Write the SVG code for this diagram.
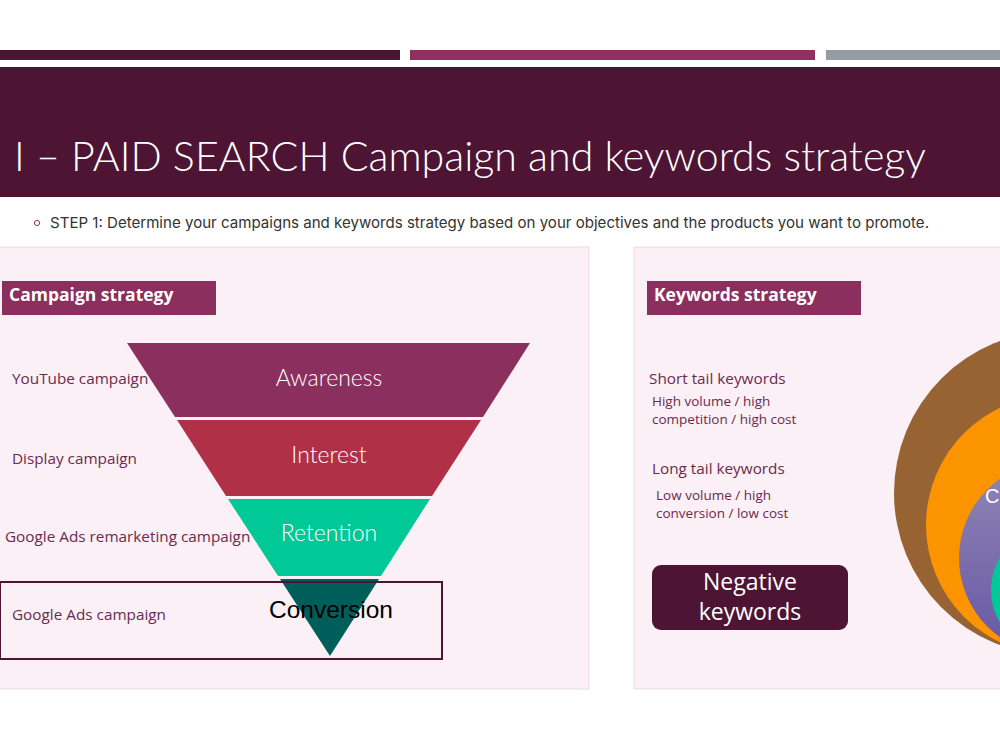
<svg xmlns="http://www.w3.org/2000/svg" width="1000" height="751" viewBox="0 0 1000 751">
<defs>
<style>
.lbl{font-family:"Open Sans","Noto Sans",sans-serif;font-size:15.3px;fill:#6b2a4d}
.sub{font-family:"Open Sans","Noto Sans",sans-serif;font-size:13.5px;fill:#6b2a4d}
.hdr{font-family:"Open Sans","Noto Sans",sans-serif;font-size:17.5px;font-weight:700;fill:#ffffff}
.stage{font-family:"Lato","Open Sans",sans-serif;font-weight:300;font-size:23px;fill:#ffffff;text-anchor:middle}
.panel{fill:#fbf0f5;stroke:#eadbe3;stroke-width:1}
</style>
<linearGradient id="purp" x1="0" y1="0" x2="0" y2="1">
<stop offset="0" stop-color="#9186b4"/>
<stop offset="1" stop-color="#6657a6"/>
</linearGradient>
</defs>
<rect width="1000" height="751" fill="#ffffff"/>
<g id="topbars">
<rect x="0" y="50" width="400" height="10" fill="#4d1533"/>
<rect x="410" y="50" width="405" height="10" fill="#8e3062"/>
<rect x="826" y="50" width="174" height="10" fill="#969ca4"/>
</g>
<g id="title">
<rect x="0" y="67" width="1000" height="130" fill="#4d1533"/>
<text x="14" y="171" font-family="Lato, 'Open Sans', sans-serif" font-weight="300" font-size="41" fill="#ffffff" textLength="912" lengthAdjust="spacingAndGlyphs">I – PAID SEARCH Campaign and keywords strategy</text>
</g>
<g id="step">
<circle cx="37" cy="223" r="2.6" fill="none" stroke="#8e3062" stroke-width="1"/>
<text x="50" y="228" font-family="Inter, Roboto, sans-serif" font-size="15" fill="#333333" textLength="879" lengthAdjust="spacingAndGlyphs">STEP 1: Determine your campaigns and keywords strategy based on your objectives and the products you want to promote.</text>
</g>
<g id="left-panel">
<rect class="panel" x="-1" y="247" width="590" height="442"/>
<rect x="2" y="281" width="214" height="34" fill="#8b2f5e"/>
<text class="hdr" x="9" y="301">Campaign strategy</text>
</g>
<g id="funnel">
<polygon id="awareness" points="127,343 530,343 483,417 175,417" fill="#8b2f5e"/>
<polygon id="interest" points="177,420 481,420 432,496 226,496" fill="#b03048"/>
<polygon id="retention" points="228,499 430,499 381,576 278,576" fill="#00c896"/>
<polygon id="conversion" points="280,579 379,579 330,656" fill="#005e5a"/>
<text class="stage" x="329" y="386">Awareness</text>
<text class="stage" x="329" y="463">Interest</text>
<text class="stage" x="329" y="541">Retention</text>
<text x="331" y="618" text-anchor="middle" font-family="'Liberation Sans', Arial, sans-serif" font-size="24.5" fill="#000000">Conversion</text>
</g>
<g id="campaign-labels">
<text class="lbl" x="12" y="384">YouTube campaign</text>
<text class="lbl" x="12" y="464">Display campaign</text>
<text class="lbl" x="5" y="542">Google Ads remarketing campaign</text>
<rect x="0" y="582" width="442" height="77" fill="none" stroke="#4d1533" stroke-width="2"/>
<text class="lbl" x="12" y="620">Google Ads campaign</text>
</g>
<g id="right-panel">
<rect class="panel" x="634" y="247" width="380" height="442"/>
<rect x="647" y="281" width="214" height="34" fill="#8b2f5e"/>
<text class="hdr" x="654" y="301">Keywords strategy</text>
</g>
<g id="keywords">
<text class="lbl" x="649" y="384">Short tail keywords</text>
<text class="sub" x="652" y="406">High volume / high</text>
<text class="sub" x="652" y="424">competition / high cost</text>
<text class="lbl" x="652" y="474">Long tail keywords</text>
<text class="sub" x="656" y="500">Low volume / high</text>
<text class="sub" x="656" y="518">conversion / low cost</text>
</g>
<g id="negative">
<rect x="652" y="565" width="196" height="65" rx="9" fill="#4d1533"/>
<text x="750" y="590" text-anchor="middle" font-family="'Open Sans','Noto Sans',sans-serif" font-size="23" fill="#ffffff">Negative</text>
<text x="750" y="620" text-anchor="middle" font-family="'Open Sans','Noto Sans',sans-serif" font-size="23" fill="#ffffff">keywords</text>
</g>
<g id="circles">
<circle cx="1056" cy="493" r="162" fill="#976332"/>
<circle cx="1056" cy="525" r="130" fill="#fc9400"/>
<circle cx="1056" cy="558" r="97" fill="url(#purp)"/>
<circle cx="1056" cy="590" r="65" fill="#00c896"/>
<text x="985" y="503" font-family="'Liberation Sans', Arial, sans-serif" font-size="20" fill="#ffffff">C</text>
</g>
</svg>
